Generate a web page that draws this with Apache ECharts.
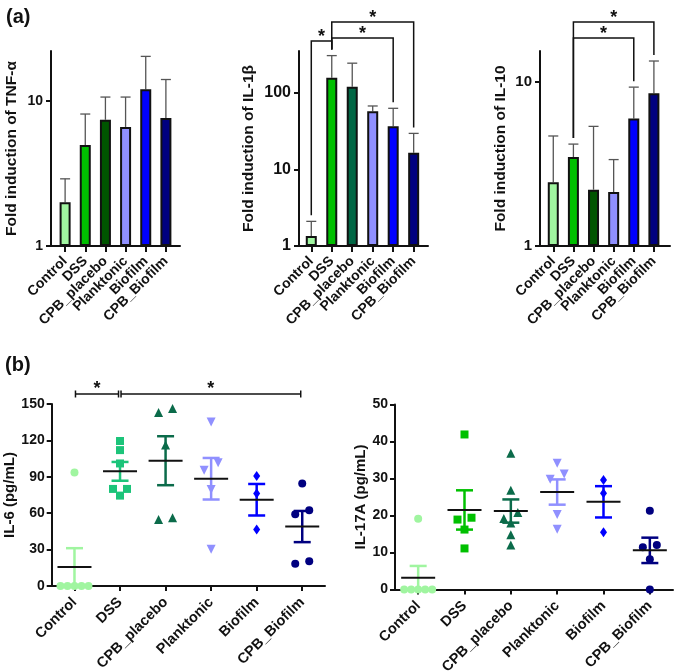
<!DOCTYPE html>
<html>
<head>
<meta charset="utf-8">
<script src="https://cdn.jsdelivr.net/npm/echarts@6/dist/echarts.min.js"></script>
<style>html,body{margin:0;padding:0;background:#fff}#main{width:674px;height:671px}</style>
</head>
<body>
<div id="main"></div>
<script>
var groups = ['Control', 'DSS', 'CPB_placebo', 'Planktonic', 'Biofilm', 'CPB_Biofilm'];

// (a) fold induction: bar height and top of error bar
var tnfMean = [2.0, 4.95, 7.4, 6.6, 12.0, 7.6];
var tnfErr = [2.9, 8.1, 10.6, 10.6, 20.2, 14.0];
var il1bMean = [1.35, 159, 121, 57.7, 36.7, 16.6];
var il1bErr = [2.1, 309, 246, 67.8, 63.2, 29.7];
var il10Mean = [2.44, 3.47, 2.20, 2.13, 5.96, 8.46];
var il10Err = [4.66, 4.16, 5.33, 3.35, 9.23, 13.3];
var logTicks1 = [1, 10];
var logTicks2 = [1, 10, 100];
// significant pairs (group indexes)
var il1bSig = [[0, 1], [1, 5], [1, 4]];
var il10Sig = [[1, 5], [1, 4]];
var il6Sig = [[0, 1], [1, 5]];

// (b) single values per mouse
var il6Control = [93.5, 0, 0, 0, 0, 0];
var il6DSS = [119.5, 112, 101, 80, 80, 74.5];
var il6Placebo = [146.2, 142.9, 116.2, 54.8, 56.2];
var il6Plank = [135.1, 101.6, 95.5, 79.5, 30.3];
var il6Biofilm = [90.6, 76.2, 46.5];
var il6CpbBiofilm = [84.5, 59.2, 62.5, 18.4, 20.4];

var il17Control = [19.1, 0, 0, 0, 0, 0];
var il17DSS = [41.9, 18.9, 19.4, 16.2, 11.1];
var il17Placebo = [36.8, 26.8, 20.8, 19.2, 18.0, 14.8, 12.0];
var il17Plank = [34.1, 31.2, 29.8, 20.3, 16.3];
var il17Biofilm = [29.6, 26.0, 15.5];
var il17CpbBiofilm = [21.3, 11.4, 12.0, 8.2, 0];

var il6Ticks = [0, 150, 30];
var il17Ticks = [0, 50, 10];

//颜色
var barColors1 = ['#a0f5a0', '#00c000', '#005500', '#9090ff', '#0000ff', '#000080'];
var barColors2 = ['#a0f5a0', '#00c000', '#006644', '#9090ff', '#0000ff', '#000080'];
var dotColors6 = ['#a0f5a0', '#1cc47a', '#0b6b4a', '#9090ff', '#0000ff', '#000080'];
var dotColors17 = ['#a0f5a0', '#00c000', '#0b6b4a', '#9090ff', '#0000ff', '#000080'];
var shapes = ['circle', 'rect', 'triangle', 'triangle', 'diamond', 'circle'];
var shapeRot = [0, 0, 0, 180, 0, 0];
var shapeSize = [8, 8, 9, 9, [7, 10], 8];

var FONT = '"Liberation Sans", Arial, sans-serif';
var INK = '#111';

var myChart = echarts.init(document.getElementById('main'));

function meanSem(a) {
  var n = a.length, s = 0, ss = 0;
  for (var i = 0; i < n; i++) s += a[i];
  var m = s / n;
  for (var j = 0; j < n; j++) ss += (a[j] - m) * (a[j] - m);
  return [m, Math.sqrt(ss / (n - 1)) / Math.sqrt(n)];
}

// spread points that would overlap, like a column scatter plot
function spread(vals, unitPx, size, step) {
  var idx = vals.map(function (v, i) { return i; }).sort(function (a, b) { return vals[a] - vals[b]; });
  var off = [], cl = [];
  function flush() {
    var k = cl.length, order = [];
    if (k % 2) order.push(0);
    for (var j = 1; order.length < k; j++) {
      order.push(-j * step);
      if (order.length < k) order.push(j * step);
    }
    cl.forEach(function (i, n) { off[i] = order[n]; });
    cl = [];
  }
  idx.forEach(function (i) {
    if (cl.length && (vals[i] - vals[cl[cl.length - 1]]) * unitPx >= size) flush();
    cl.push(i);
  });
  flush();
  return off;
}

var grids = [
  { left: 51, top: 51, width: 129, height: 195, outerBoundsMode: 'none' },
  { left: 299, top: 51, width: 129, height: 195, outerBoundsMode: 'none' },
  { left: 540, top: 51, width: 130, height: 195, outerBoundsMode: 'none' },
  { left: 51.7, top: 404, width: 273.3, height: 182, outerBoundsMode: 'none' },
  { left: 395, top: 404.5, width: 278, height: 185, outerBoundsMode: 'none' }
];
var xRange = [[-0.7, 5.7], [-0.6, 5.7], [-0.66, 5.8]];
var logMax = [22, 355, 15.3];
var yNames = ['Fold induction of TNF-\u03b1', 'Fold induction of IL-1\u03b2', 'Fold induction of IL-10', 'IL-6 (pg/mL)', 'IL-17A (pg/mL)'];
var nameGaps = [31, 42, 31, 33, 27];
var tickFont = [14, 16, 15, 14, 14];

var xAxes = [], yAxes = [], series = [];
var lineStyle = { color: INK, width: 2 };

// ---- (a) bar charts ----
var barSets = [
  { mean: tnfMean, err: tnfErr, ticks: logTicks1, colors: barColors1, sig: [], lift: [] },
  { mean: il1bMean, err: il1bErr, ticks: logTicks2, colors: barColors2, sig: il1bSig, lift: [10, 29, 13] },
  { mean: il10Mean, err: il10Err, ticks: logTicks1, colors: barColors1, sig: il10Sig, lift: [29, 13] }
];

barSets.forEach(function (set, k) {
  xAxes.push({
    type: 'value', gridIndex: k, min: xRange[k][0], max: xRange[k][1],
    axisLine: { show: true, onZero: false, lineStyle: lineStyle },
    axisTick: { show: true, length: 6, lineStyle: lineStyle, customValues: [0, 1, 2, 3, 4, 5] },
    splitLine: { show: false },
    axisLabel: {
      customValues: [0, 1, 2, 3, 4, 5], rotate: 45, margin: 13, interval: 0,
      showMinLabel: true, showMaxLabel: true, hideOverlap: false,
      fontFamily: FONT, fontWeight: 'bold', fontSize: 14, color: INK,
      formatter: function (v) { return groups[Math.round(v)]; }
    }
  });
  yAxes.push({
    type: 'log', logBase: 10, gridIndex: k, min: 1, max: logMax[k],
    name: yNames[k], nameLocation: 'middle', nameGap: nameGaps[k],
    nameTextStyle: { fontFamily: FONT, fontWeight: 'bold', fontSize: 15.5, color: INK },
    axisLine: { show: true, onZero: false, lineStyle: lineStyle },
    axisTick: { show: true, length: 5, lineStyle: lineStyle, customValues: set.ticks },
    splitLine: { show: false },
    axisLabel: {
      customValues: set.ticks, margin: 8, showMinLabel: true,
      fontFamily: FONT, fontWeight: 'bold', fontSize: tickFont[k], color: INK
    }
  });
  series.push({
    type: 'bar', xAxisIndex: k, yAxisIndex: k, barWidth: 11, z: 3,
    data: set.mean.map(function (v, i) { return [i, v]; }),
    itemStyle: {
      borderColor: INK, borderWidth: 2,
      color: function (p) { return set.colors[p.dataIndex]; }
    }
  });
  series.push({
    type: 'custom', xAxisIndex: k, yAxisIndex: k, z: 2,
    encode: { x: 0, y: 2 },
    data: set.mean.map(function (v, i) { return [i, v, set.err[i]]; }),
    renderItem: function (params, api) {
      var p0 = api.coord([api.value(0), api.value(1)]);
      var p1 = api.coord([api.value(0), api.value(2)]);
      var st = { stroke: '#555', lineWidth: 1.3 };
      return { type: 'group', children: [
        { type: 'line', shape: { x1: p0[0], y1: p0[1], x2: p1[0], y2: p1[1] }, style: st },
        { type: 'line', shape: { x1: p1[0] - 5, y1: p1[1], x2: p1[0] + 5, y2: p1[1] }, style: st }
      ] };
    }
  });
  if (set.sig.length) {
    series.push({
      type: 'custom', xAxisIndex: k, yAxisIndex: k, z: 4, clip: false,
      encode: { x: 0, y: 2 },
      data: set.sig.map(function (s, i) { return [s[0], s[1], set.err[s[0]], set.err[s[1]], set.lift[i]]; }),
      renderItem: function (params, api) {
        var a = api.coord([api.value(0), api.value(2)]);
        var b = api.coord([api.value(1), api.value(3)]);
        var top = params.coordSys.y - api.value(4);
        return { type: 'group', children: [
          { type: 'polyline', shape: { points: [[a[0], a[1] - 6], [a[0], top], [b[0], top], [b[0], b[1] - 6]] },
            style: { stroke: INK, lineWidth: 1.5, fill: null } },
          { type: 'text', style: { text: '*', x: (a[0] + b[0]) / 2, y: top + 5, align: 'center', verticalAlign: 'bottom',
            font: 'bold 18px ' + FONT, fill: INK } }
        ] };
      }
    });
  }
});

// ---- (b) dot plots ----
var dotSets = [
  { vals: [il6Control, il6DSS, il6Placebo, il6Plank, il6Biofilm, il6CpbBiofilm], ticks: il6Ticks, colors: dotColors6, sig: il6Sig },
  { vals: [il17Control, il17DSS, il17Placebo, il17Plank, il17Biofilm, il17CpbBiofilm], ticks: il17Ticks, colors: dotColors17, sig: [] }
];

dotSets.forEach(function (set, j) {
  var k = j + 3;
  var unitPx = grids[k].height / (set.ticks[1] - set.ticks[0]);
  xAxes.push({
    type: 'category', gridIndex: k, data: groups, boundaryGap: true,
    axisLine: { show: true, onZero: false, lineStyle: lineStyle },
    axisTick: { show: true, alignWithLabel: true, length: 5, lineStyle: lineStyle },
    axisLabel: { interval: 0, rotate: 45, margin: 14, hideOverlap: false,
      fontFamily: FONT, fontWeight: 'bold', fontSize: 14.5, color: INK }
  });
  yAxes.push({
    type: 'value', gridIndex: k, min: set.ticks[0], max: set.ticks[1], interval: set.ticks[2],
    name: yNames[k], nameLocation: 'middle', nameGap: nameGaps[k],
    nameTextStyle: { fontFamily: FONT, fontWeight: 'bold', fontSize: 15, color: INK },
    axisLine: { show: true, onZero: false, lineStyle: lineStyle },
    axisTick: { show: true, length: 5, lineStyle: lineStyle },
    splitLine: { show: false },
    axisLabel: { margin: 7, fontFamily: FONT, fontWeight: 'bold', fontSize: tickFont[k], color: INK }
  });
  set.vals.forEach(function (vals, g) {
    var off = spread(vals, unitPx, 8, 7);
    series.push({
      type: 'scatter', xAxisIndex: k, yAxisIndex: k, z: 2, clip: false,
      symbol: shapes[g], symbolSize: shapeSize[g], symbolRotate: shapeRot[g],
      itemStyle: { color: set.colors[g], opacity: 1 },
      data: vals.map(function (v, i) { return { value: [g, v], symbolOffset: [off[i], 0] }; })
    });
  });
  series.push({
    type: 'custom', xAxisIndex: k, yAxisIndex: k, z: 3, clip: false,
    encode: { x: 0, y: 1 },
    data: set.vals.map(function (vals, g) { var ms = meanSem(vals); return [g, ms[0], ms[1]]; }),
    renderItem: function (params, api) {
      var x = api.value(0), m = api.value(1), s = api.value(2);
      var c = api.coord([x, m]), hi = api.coord([x, m + s]), lo = api.coord([x, m - s]);
      var col = set.colors[x];
      var st = { stroke: col, lineWidth: 2.5 };
      return { type: 'group', children: [
        { type: 'line', shape: { x1: c[0], y1: hi[1], x2: c[0], y2: lo[1] }, style: st },
        { type: 'line', shape: { x1: c[0] - 8.5, y1: hi[1], x2: c[0] + 8.5, y2: hi[1] }, style: st },
        { type: 'line', shape: { x1: c[0] - 8.5, y1: lo[1], x2: c[0] + 8.5, y2: lo[1] }, style: st },
        { type: 'line', shape: { x1: c[0] - 17, y1: c[1], x2: c[0] + 17, y2: c[1] }, style: { stroke: INK, lineWidth: 2 } }
      ] };
    }
  });
  if (set.sig.length) {
    series.push({
      type: 'custom', xAxisIndex: k, yAxisIndex: k, z: 4, clip: false,
      encode: { x: 0, y: 1 },
      data: set.sig.map(function (s) { return [s[0], s[1]]; }),
      renderItem: function (params, api) {
        var a = api.coord([api.value(0), 0]), b = api.coord([api.value(1), 0]);
        var y = params.coordSys.y - 10, x1 = a[0] + 1, x2 = b[0] - 1.5;
        var st = { stroke: INK, lineWidth: 1.5 };
        return { type: 'group', children: [
          { type: 'line', shape: { x1: x1, y1: y, x2: x2, y2: y }, style: st },
          { type: 'line', shape: { x1: x1, y1: y - 3.5, x2: x1, y2: y + 3.5 }, style: st },
          { type: 'line', shape: { x1: x2, y1: y - 3.5, x2: x2, y2: y + 3.5 }, style: st },
          { type: 'text', style: { text: '*', x: (x1 + x2) / 2, y: y + 4, align: 'center', verticalAlign: 'bottom',
            font: 'bold 18px ' + FONT, fill: INK } }
        ] };
      }
    });
  }
});

var option = {
  backgroundColor: '#fff',
  animation: false,
  title: [
    { text: '(a)', left: 1, top: 2, textStyle: { fontFamily: FONT, fontWeight: 'bold', fontSize: 20, color: INK } },
    { text: '(b)', left: 0, top: 350, textStyle: { fontFamily: FONT, fontWeight: 'bold', fontSize: 20, color: INK } }
  ],
  grid: grids,
  xAxis: xAxes,
  yAxis: yAxes,
  series: series
};
option && myChart.setOption(option);
</script>
</body>
</html>
